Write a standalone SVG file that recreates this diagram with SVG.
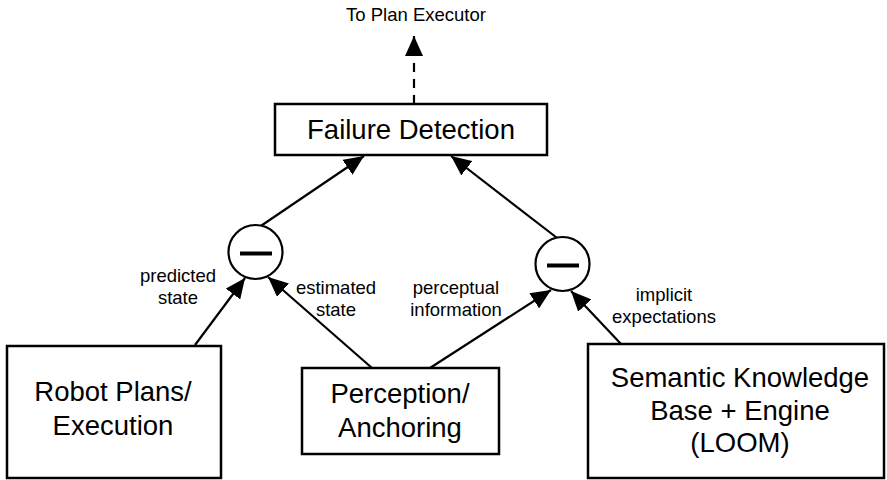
<svg xmlns="http://www.w3.org/2000/svg" width="887" height="480" viewBox="0 0 887 480">
  <style>
    .box { fill: #fff; stroke: #000; stroke-width: 2.5; }
    .op { fill: #fff; stroke: #000; stroke-width: 2.2; }
    .bar { stroke: #000; stroke-width: 4; }
    .big { font-family: "Liberation Sans", Arial, sans-serif; font-size: 27.5px; text-anchor: middle; fill: #000; }
    .lbl { font-family: "Liberation Sans", Arial, sans-serif; font-size: 18.5px; text-anchor: middle; fill: #000; }
    .edge { stroke: #000; stroke-width: 2.2; fill: none; marker-end: url(#arrow); }
    .dash { stroke-dasharray: 9 7; }
  </style>
  <defs>
    <marker id="arrow" markerWidth="20" markerHeight="18" refX="20" refY="9" orient="auto" markerUnits="userSpaceOnUse" viewBox="0 0 20 18">
      <path d="M0,0 L20,9 L0,18 Z" fill="#000"/>
    </marker>
  </defs>

  <rect width="887" height="480" fill="#fff"/>

  <!-- connectors -->
  <g id="connectors">
    <line class="edge dash" x1="414" y1="104" x2="414" y2="36"/>
    <line class="edge" x1="261.5" y1="225.5" x2="364" y2="156"/>
    <line class="edge" x1="556.5" y1="237.5" x2="451" y2="156"/>
    <line class="edge" x1="195" y1="345" x2="245" y2="278"/>
    <line class="edge" x1="372" y1="368" x2="268" y2="277"/>
    <line class="edge" x1="430" y1="368" x2="551" y2="290"/>
    <line class="edge" x1="621" y1="344" x2="571" y2="291"/>
  </g>

  <!-- edge labels -->
  <g id="labels">
    <text class="lbl" x="416" y="21">To Plan Executor</text>
    <text class="lbl" x="178" y="282">predicted</text>
    <text class="lbl" x="178" y="304">state</text>
    <text class="lbl" x="336" y="294">estimated</text>
    <text class="lbl" x="336" y="316">state</text>
    <text class="lbl" x="456" y="294">perceptual</text>
    <text class="lbl" x="456" y="316">information</text>
    <text class="lbl" x="664" y="301">implicit</text>
    <text class="lbl" x="664" y="323">expectations</text>
  </g>

  <g id="failure-detection">
    <rect class="box" x="275" y="104" width="272" height="51"/>
    <text class="big" x="411" y="139">Failure Detection</text>
  </g>

  <g id="diff-left">
    <circle class="op" cx="255.5" cy="252" r="27"/>
    <line class="bar" x1="240" y1="253.5" x2="272" y2="253.5"/>
  </g>

  <g id="diff-right">
    <circle class="op" cx="562.5" cy="264" r="27"/>
    <line class="bar" x1="547" y1="265.5" x2="579" y2="265.5"/>
  </g>

  <g id="robot-plans">
    <rect class="box" x="7" y="346" width="214" height="132"/>
    <text class="big" x="113" y="401">Robot Plans/</text>
    <text class="big" x="113" y="435">Execution</text>
  </g>

  <g id="perception">
    <rect class="box" x="302" y="368" width="197" height="86"/>
    <text class="big" x="400" y="403">Perception/</text>
    <text class="big" x="400" y="437">Anchoring</text>
  </g>

  <g id="semantic-kb">
    <rect class="box" x="588" y="344" width="296" height="134"/>
    <text class="big" x="740" y="387">Semantic Knowledge</text>
    <text class="big" x="740" y="420">Base + Engine</text>
    <text class="big" x="740" y="452">(LOOM)</text>
  </g>
</svg>
